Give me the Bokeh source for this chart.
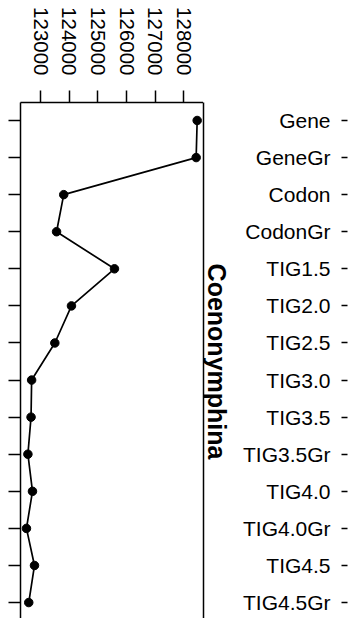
import math
from bokeh.plotting import figure
from bokeh.models import Range1d, LinearAxis, FixedTicker, BasicTickFormatter, Label, ColumnDataSource
from bokeh.layouts import row
from bokeh.embed import file_html
from bokeh.resources import INLINE
from bokeh.core.properties import value

# ---- data ----
categories = ["Gene", "GeneGr", "Codon", "CodonGr", "TIG1.5", "TIG2.0", "TIG2.5",
              "TIG3.0", "TIG3.5", "TIG3.5Gr", "TIG4.0", "TIG4.0Gr", "TIG4.5", "TIG4.5Gr"]
values = [128465, 128430, 123810, 123560, 125580, 124080, 123500,
          122690, 122670, 122560, 122720, 122510, 122790, 122590]
x_ticks = [123000, 124000, 125000, 126000, 127000, 128000]
panel_label = "Coenonymphina"

FONT = "Liberation Sans"
n = len(categories)
row_pos = list(range(1, n + 1))

y_range = Range1d(start=14.43, end=0.515)

# ---- main panel ----
p1 = figure(width=203, height=618, output_backend="svg", toolbar_location=None,
            x_range=Range1d(122302, 128686), y_range=y_range,
            x_axis_location=None, y_axis_location=None,
            min_border_left=20, min_border_right=0, min_border_top=102, min_border_bottom=0)
p1.outline_line_color = None
p1.grid.visible = False
p1.background_fill_color = "white"
p1.border_fill_color = "white"

top = LinearAxis(ticker=FixedTicker(ticks=x_ticks),
                 formatter=BasicTickFormatter(use_scientific=False),
                 major_tick_out=12, major_tick_in=0, minor_tick_out=0, minor_tick_in=0,
                 major_label_orientation=-math.pi / 2, major_label_standoff=15,
                 major_label_text_font=FONT, major_label_text_font_size="20.5px",
                 major_label_text_color="black",
                 axis_line_width=1.5, major_tick_line_width=1.5)
p1.add_layout(top, "above")

left = LinearAxis(ticker=FixedTicker(ticks=[], minor_ticks=row_pos),
                  major_tick_out=0, major_tick_in=0,
                  minor_tick_out=12, minor_tick_in=0,
                  minor_tick_line_width=1.5, minor_tick_line_color="black",
                  axis_line_width=1.5, major_label_standoff=0)
p1.add_layout(left, "left")

right = LinearAxis(ticker=FixedTicker(ticks=[]),
                   major_tick_out=0, major_tick_in=0, minor_tick_out=0, minor_tick_in=0,
                   axis_line_width=1.5, major_label_standoff=0)
p1.add_layout(right, "right")

src = ColumnDataSource(dict(x=values, y=row_pos))
p1.line(x="x", y="y", source=src, line_color="black", line_width=1.7)
p1.scatter(x="x", y="y", source=src, marker="circle", size=8.5,
           fill_color="black", line_color="black")

# ---- label column ----
p2 = figure(width=146, height=618, output_backend="svg", toolbar_location=None,
            x_range=Range1d(0, 138), y_range=y_range,
            x_axis_location=None, y_axis_location=None,
            min_border_left=0, min_border_right=8, min_border_top=102, min_border_bottom=0)
p2.outline_line_color = None
p2.grid.visible = False

lax = LinearAxis(ticker=FixedTicker(ticks=[]),
                 major_tick_out=0, major_tick_in=0, minor_tick_out=0, minor_tick_in=0,
                 axis_line_width=1.5, major_label_standoff=0)
p2.add_layout(lax, "left")

rax = LinearAxis(ticker=FixedTicker(ticks=[], minor_ticks=row_pos),
                 major_tick_out=0, major_tick_in=0,
                 minor_tick_out=6, minor_tick_in=0,
                 minor_tick_line_width=1.5, minor_tick_line_color="black",
                 axis_line_color=None, major_label_standoff=0)
p2.add_layout(rax, "right")

lsrc = ColumnDataSource(dict(x=[127] * n, y=row_pos, text=categories))
p2.text(x="x", y="y", text="text", source=lsrc, text_align="right", text_baseline="middle",
        text_font=value(FONT), text_font_size="21px", text_color="black")

strip_y = (row_pos[0] + row_pos[-1]) / 2
p2.add_layout(Label(x=13, y=strip_y, text=panel_label, angle=-math.pi / 2,
                    text_align="center", text_baseline="middle",
                    text_font=FONT, text_font_size="25px", text_font_style="bold",
                    text_color="black"))

layout = row(p1, p2)
open("out.html", "w").write(file_html(layout, INLINE))
